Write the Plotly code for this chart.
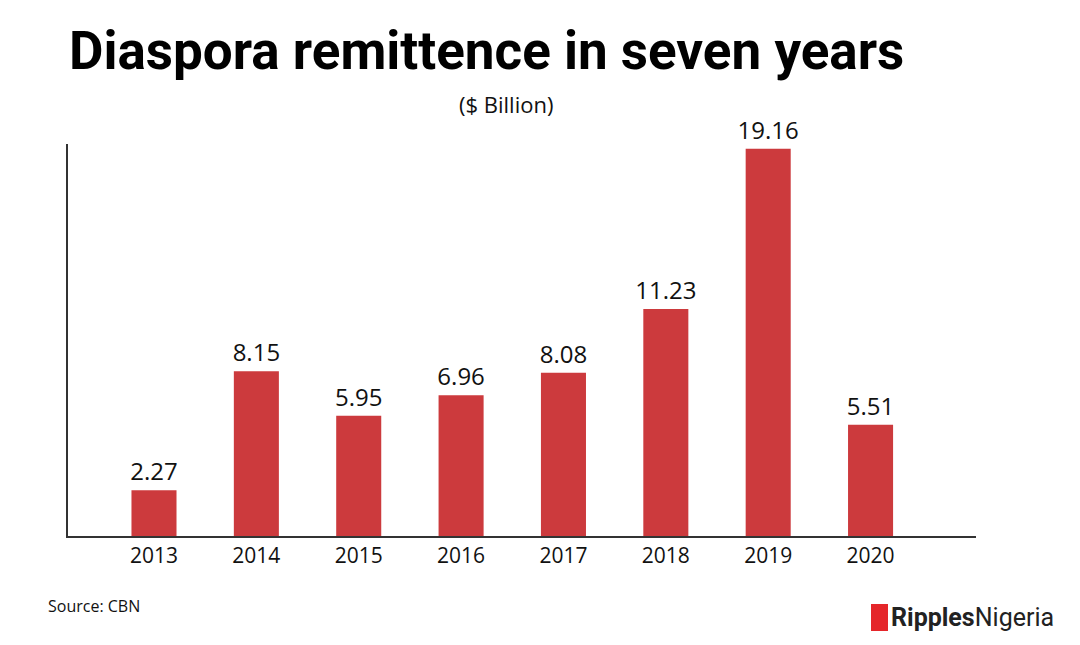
import plotly.graph_objects as go

years = ["2013", "2014", "2015", "2016", "2017", "2018", "2019", "2020"]
remittance = [2.27, 8.15, 5.95, 6.96, 8.08, 11.23, 19.16, 5.51]
value_labels = ["2.27", "8.15", "5.95", "6.96", "8.08", "11.23", "19.16", "5.51"]

# page renders with ~7px offset; compensate in margins
OFF = 7
L, R, T, B = 67 - OFF, 975 - OFF, 143 - OFF, 535 - OFF
PW, PH = R - L, B - T


def px(x):
    return (x - OFF - L) / PW


def py(y):
    return (B - (y - OFF)) / PH


fig = go.Figure(go.Bar(
    x=years, y=remittance, text=value_labels, textposition="outside",
    textfont=dict(size=24, color="#111", family="Open Sans"),
    marker=dict(color="#CC3A3D", line=dict(width=0)),
    width=0.44, cliponaxis=False, constraintext="none",
))

fig.update_layout(
    width=1080, height=645,
    margin=dict(l=L, r=1080 - R, t=T, b=645 - B),
    paper_bgcolor="white", plot_bgcolor="white",
    showlegend=False,
    font=dict(family="Open Sans", color="#111"),
    xaxis=dict(range=[-0.84, 8.03], showline=True, linecolor="#333", linewidth=2,
               showgrid=False, ticks="", tickfont=dict(size=21, color="#111")),
    yaxis=dict(range=[0, 19.4], showline=True, linecolor="#333", linewidth=2,
               showgrid=False, zeroline=False, showticklabels=False, ticks=""),
)

fig.add_annotation(text="<b>Diaspora remittence in seven years</b>", xref="paper", yref="paper",
                   x=px(66), xanchor="left", y=py(50), yanchor="middle", showarrow=False,
                   font=dict(size=53, family="Roboto", color="#000"))
fig.add_annotation(text="($ Billion)", xref="paper", yref="paper",
                   x=px(505), xanchor="center", y=py(103), yanchor="middle",
                   showarrow=False, font=dict(size=22, family="Open Sans", color="#111"))
fig.add_annotation(text="Source: CBN", xref="paper", yref="paper",
                   x=px(45), xanchor="left", y=py(605), yanchor="middle",
                   showarrow=False, font=dict(size=16, family="Open Sans", color="#111"))
fig.add_annotation(text="<b>Ripples</b>Nigeria", xref="paper", yref="paper",
                   x=px(888), xanchor="left", y=py(616), yanchor="middle",
                   showarrow=False, font=dict(size=25, family="Roboto", color="#222"))
fig.add_shape(type="rect", xref="paper", yref="paper",
              x0=px(870), x1=px(887), y0=py(630), y1=py(603),
              fillcolor="#E5262A", line=dict(width=0))

fig.write_html("out.html")
